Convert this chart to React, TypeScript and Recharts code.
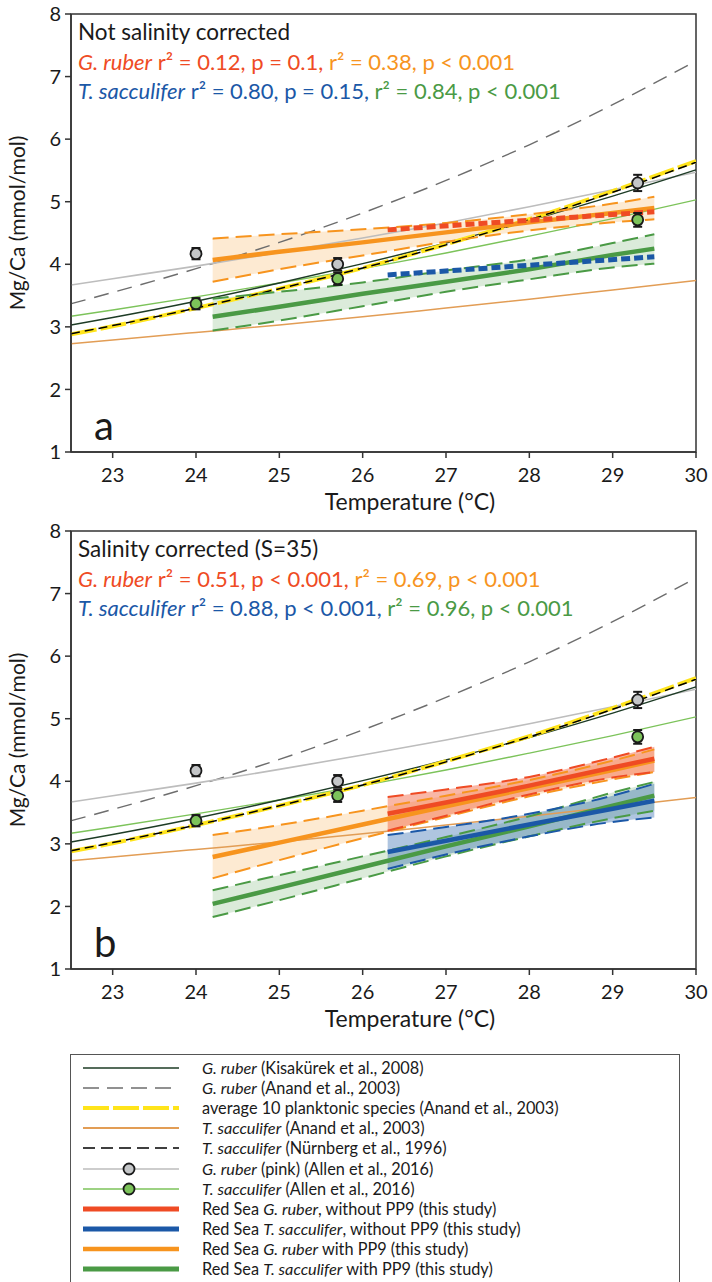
import React from 'react'
import {
  ComposedChart,
  Line,
  Area,
  Scatter,
  ErrorBar,
  XAxis,
  YAxis,
  ReferenceArea,
} from 'recharts'

// ---- axis ticks ----
const TEMP_TICKS = [23, 24, 25, 26, 27, 28, 29, 30]
const MGCA_TICKS = [1, 2, 3, 4, 5, 6, 7, 8]

// ---- published calibrations (same in both panels), read at these temperatures ----
const CURVE_T = [22.5, 23, 24, 25, 26, 27, 28, 29, 30]
const kisakurekRuber = [3.03, 3.15, 3.41, 3.7, 4.01, 4.34, 4.7, 5.09, 5.51]
const anandRuber = [3.37, 3.55, 3.93, 4.35, 4.82, 5.34, 5.91, 6.55, 7.25]
const anandAverage = [2.88, 3.01, 3.3, 3.61, 3.94, 4.32, 4.72, 5.17, 5.65]
const anandSacculifer = [2.73, 2.79, 2.91, 3.03, 3.16, 3.3, 3.44, 3.59, 3.74]
const nurnbergSacculifer = [2.89, 3.02, 3.3, 3.61, 3.94, 4.31, 4.71, 5.15, 5.63]
const allenRuberPink = [3.67, 3.77, 3.97, 4.19, 4.42, 4.66, 4.92, 5.19, 5.47]
const allenSacculifer = [3.17, 3.27, 3.48, 3.7, 3.93, 4.18, 4.45, 4.73, 5.03]

// ---- Allen et al. 2016 data points ----
const ALLEN_T = [24.0, 25.7, 29.3]
const allenRuberPts = [4.17, 4.0, 5.3]
const allenRuberErr = [0.09, 0.1, 0.13]
const allenSaccPts = [3.37, 3.77, 4.71]
const allenSaccErr = [0.09, 0.1, 0.11]

// ---- Red Sea fits (this study) ----
const PP9_T = [24.2, 25, 26, 27, 28, 29, 29.5]
const NOPP9_T = [26.3, 27, 28, 29, 29.5]
const NOPP9_ENDS = [26.3, 29.5]

// panel a: not salinity corrected
const aRuberPP9Mean = [4.07, 4.2, 4.35, 4.51, 4.67, 4.82, 4.9]
const aRuberPP9Upper = [4.41, 4.48, 4.56, 4.66, 4.8, 4.97, 5.08]
const aRuberPP9Lower = [3.72, 3.92, 4.14, 4.36, 4.54, 4.67, 4.72]
const aSaccPP9Mean = [3.16, 3.32, 3.53, 3.72, 3.92, 4.15, 4.25]
const aSaccPP9Upper = [3.45, 3.56, 3.71, 3.9, 4.08, 4.34, 4.48]
const aSaccPP9Lower = [2.94, 3.1, 3.33, 3.56, 3.76, 3.95, 4.01]
const aRuberNoPP9 = [4.55, 4.84]
const aSaccNoPP9 = [3.83, 4.12]

// panel b: salinity corrected (S=35)
const bRuberPP9Mean = [2.79, 3.02, 3.31, 3.6, 3.89, 4.18, 4.33]
const bRuberPP9Upper = [3.14, 3.3, 3.53, 3.77, 4.02, 4.33, 4.51]
const bRuberPP9Lower = [2.45, 2.74, 3.09, 3.43, 3.76, 4.03, 4.15]
const bSaccPP9Mean = [2.04, 2.3, 2.63, 2.96, 3.28, 3.61, 3.77]
const bSaccPP9Upper = [2.26, 2.5, 2.8, 3.11, 3.44, 3.82, 3.99]
const bSaccPP9Lower = [1.83, 2.1, 2.45, 2.8, 3.12, 3.41, 3.53]
const bRuberNoPP9Mean = [3.48, 3.66, 3.93, 4.22, 4.36]
const bRuberNoPP9Upper = [3.75, 3.87, 4.07, 4.38, 4.55]
const bRuberNoPP9Lower = [3.21, 3.45, 3.79, 4.06, 4.15]
const bSaccNoPP9Mean = [2.87, 3.05, 3.31, 3.56, 3.69]
const bSaccNoPP9Upper = [3.14, 3.27, 3.48, 3.77, 3.96]
const bSaccNoPP9Lower = [2.6, 2.83, 3.12, 3.35, 3.42]

// ---- annotation text ----
const TOP_RUBER_STATS = [' r² = 0.12, p = 0.1,', ' r² = 0.38, p < 0.001']
const TOP_SACC_STATS = [' r² = 0.80, p = 0.15,', ' r² = 0.84, p < 0.001']
const BOTTOM_RUBER_STATS = [' r² = 0.51, p < 0.001,', ' r² = 0.69, p < 0.001']
const BOTTOM_SACC_STATS = [' r² = 0.88, p < 0.001,', ' r² = 0.96, p < 0.001']

const FONT = 'Lato, "Open Sans", sans-serif'
const INK = '#1a1a1a'
const FRAME = '#333'
const RED = '#ef4b24'
const ORANGE = '#f7941e'
const BLUE = '#1b58a7'
const GREEN = '#4a9a45'
const LIGHT_GREEN = '#7cc35a'
const GRAY_LINE = '#bdbdbd'
const GRAY_DASH = '#6d6d6d'
const KIS = '#1d3b25'
const YELLOW = '#ffe41a'
const TAN = '#e29d55'

const pts = (xs: number[], ys: number[]) => xs.map((x, i) => ({ x, y: ys[i] }))
const band = (xs: number[], lo: number[], hi: number[]) =>
  xs.map((x, i) => ({ x, range: [lo[i], hi[i]] }))
const errPts = (xs: number[], ys: number[], es: number[]) =>
  xs.map((x, i) => ({ x, y: ys[i], err: es[i] }))

interface Fit {
  id: string
  xs: number[]
  mean: number[]
  upper?: number[]
  lower?: number[]
  color: string
  fillOpacity?: number
  dashedMean?: boolean
}

function fitAreas(f: Fit) {
  if (!f.upper || !f.lower) return []
  return [
    <Area
      key={`${f.id}-area`}
      data={band(f.xs, f.lower, f.upper)}
      dataKey="range"
      type="monotone"
      stroke="none"
      fill={f.color}
      fillOpacity={f.fillOpacity ?? 0.2}
      isAnimationActive={false}
      activeDot={false}
    />,
  ]
}

function fitLines(f: Fit) {
  const out = []
  if (f.upper && f.lower) {
    for (const [k, ys] of [
      ['up', f.upper],
      ['lo', f.lower],
    ] as [string, number[]][]) {
      out.push(
        <Line
          key={`${f.id}-${k}`}
          data={pts(f.xs, ys)}
          dataKey="y"
          type="monotone"
          stroke={f.color}
          strokeWidth={2}
          strokeDasharray="16 7"
          dot={false}
          activeDot={false}
          isAnimationActive={false}
        />,
      )
    }
  }
  out.push(
    <Line
      key={`${f.id}-mean`}
      data={pts(f.xs, f.mean)}
      dataKey="y"
      type="linear"
      stroke={f.color}
      strokeWidth={f.dashedMean ? 5 : 4.5}
      strokeDasharray={f.dashedMean ? '9 4' : undefined}
      dot={false}
      activeDot={false}
      isAnimationActive={false}
    />,
  )
  return out
}

function curve(
  key: string,
  ys: number[],
  stroke: string,
  width: number,
  dash?: string,
) {
  return (
    <Line
      key={key}
      data={pts(CURVE_T, ys)}
      dataKey="y"
      type="monotone"
      stroke={stroke}
      strokeWidth={width}
      strokeDasharray={dash}
      dot={false}
      activeDot={false}
      isAnimationActive={false}
    />
  )
}

const dotShape = (fill: string) => (p: any) => (
  <circle cx={p.cx} cy={p.cy} r={5.5} fill={fill} stroke={INK} strokeWidth={1.8} />
)

const TICK = { fontSize: 20, fill: INK, fontFamily: FONT }

function Panel({
  top,
  title,
  ruberStats,
  saccStats,
  letter,
  fits,
}: {
  top: number
  title: string
  ruberStats: string[]
  saccStats: string[]
  letter: string
  fits: Fit[]
}) {
  return (
    <div style={{ position: 'absolute', left: 0, top, width: 712, height: 520 }}>
      <ComposedChart
        width={712}
        height={502}
        margin={{ top: 14, right: 16, bottom: 0, left: 0 }}
      >
        <XAxis
          type="number"
          dataKey="x"
          domain={[22.5, 30]}
          ticks={TEMP_TICKS}
          allowDataOverflow
          height={50}
          tick={TICK}
          tickSize={6}
          tickMargin={10}
          axisLine={{ stroke: FRAME, strokeWidth: 1.5 }}
          tickLine={{ stroke: FRAME, strokeWidth: 1.5 }}
        />
        <YAxis
          type="number"
          dataKey="y"
          domain={[1, 8]}
          ticks={MGCA_TICKS}
          allowDataOverflow
          width={71}
          tick={TICK}
          tickSize={6}
          tickMargin={4}
          axisLine={{ stroke: FRAME, strokeWidth: 1.5 }}
          tickLine={{ stroke: FRAME, strokeWidth: 1.5 }}
        />
        {curve('anandRuber', anandRuber, GRAY_DASH, 1.4, '15 9')}
        {curve('allenRuber', allenRuberPink, GRAY_LINE, 1.6)}
        {curve('allenSacc', allenSacculifer, LIGHT_GREEN, 1.4)}
        {curve('anandSacc', anandSacculifer, TAN, 1.5)}
        {curve('kisakurek', kisakurekRuber, KIS, 1.4)}
        {curve('anandAvg', anandAverage, YELLOW, 4, '26 4')}
        {curve('nurnberg', nurnbergSacculifer, '#000', 1.5, '9 5')}
        {fits.flatMap(fitAreas)}
        {fits.flatMap(fitLines)}
        <Scatter
          data={errPts(ALLEN_T, allenRuberPts, allenRuberErr)}
          dataKey="y"
          shape={dotShape('#c4c6c8')}
          isAnimationActive={false}
        >
          <ErrorBar dataKey="err" direction="y" width={4.5} stroke={INK} strokeWidth={2} />
        </Scatter>
        <Scatter
          data={errPts(ALLEN_T, allenSaccPts, allenSaccErr)}
          dataKey="y"
          shape={dotShape(LIGHT_GREEN)}
          isAnimationActive={false}
        >
          <ErrorBar dataKey="err" direction="y" width={4.5} stroke={INK} strokeWidth={2} />
        </Scatter>
        <ReferenceArea
          x1={22.5}
          x2={30}
          y1={1}
          y2={8}
          fill="none"
          stroke={FRAME}
          strokeWidth={1.5}
          ifOverflow="visible"
        />
      </ComposedChart>
      <svg
        width={712}
        height={520}
        style={{ position: 'absolute', left: 0, top: 0, pointerEvents: 'none', whiteSpace: 'pre' }}
        fontFamily={FONT}
      >
        <text x={78} y={40} fontSize={22.5} fill={INK}>
          {title}
        </text>
        <text x={78} y={70} fontSize={22}>
          <tspan fill={RED} fontStyle="italic">G. ruber</tspan>
          <tspan fill={RED}>{ruberStats[0]}</tspan>
          <tspan fill={ORANGE}>{ruberStats[1]}</tspan>
        </text>
        <text x={78} y={99} fontSize={22}>
          <tspan fill={BLUE} fontStyle="italic">T. sacculifer</tspan>
          <tspan fill={BLUE}>{saccStats[0]}</tspan>
          <tspan fill={GREEN}>{saccStats[1]}</tspan>
        </text>
        <text x={94} y={440} fontSize={40} fill={INK}>
          {letter}
        </text>
        <text
          transform="translate(25,223) rotate(-90)"
          textAnchor="middle"
          fontSize={21}
          fill={INK}
        >
          Mg/Ca (mmol/mol)
        </text>
        <text x={410} y={510} textAnchor="middle" fontSize={23} fill={INK}>
          Temperature (°C)
        </text>
      </svg>
    </div>
  )
}

const TOP_FITS: Fit[] = [
  { id: 'aRuberPP9', xs: PP9_T, mean: aRuberPP9Mean, upper: aRuberPP9Upper, lower: aRuberPP9Lower, color: ORANGE },
  { id: 'aSaccPP9', xs: PP9_T, mean: aSaccPP9Mean, upper: aSaccPP9Upper, lower: aSaccPP9Lower, color: GREEN },
  { id: 'aRuberNo', xs: NOPP9_ENDS, mean: aRuberNoPP9, color: RED, dashedMean: true },
  { id: 'aSaccNo', xs: NOPP9_ENDS, mean: aSaccNoPP9, color: BLUE, dashedMean: true },
]

const BOTTOM_FITS: Fit[] = [
  { id: 'bRuberPP9', xs: PP9_T, mean: bRuberPP9Mean, upper: bRuberPP9Upper, lower: bRuberPP9Lower, color: ORANGE },
  { id: 'bSaccPP9', xs: PP9_T, mean: bSaccPP9Mean, upper: bSaccPP9Upper, lower: bSaccPP9Lower, color: GREEN },
  { id: 'bRuberNo', xs: NOPP9_T, mean: bRuberNoPP9Mean, upper: bRuberNoPP9Upper, lower: bRuberNoPP9Lower, color: RED, fillOpacity: 0.4 },
  { id: 'bSaccNo', xs: NOPP9_T, mean: bSaccNoPP9Mean, upper: bSaccNoPP9Upper, lower: bSaccNoPP9Lower, color: BLUE, fillOpacity: 0.35 },
]

// legend: [text, italic] segments
const LEGEND_LABELS: [string, boolean][][] = [
  [['G. ruber', true], [' (Kisakürek et al., 2008)', false]],
  [['G. ruber', true], [' (Anand et al., 2003)', false]],
  [['average 10 planktonic species (Anand et al., 2003)', false]],
  [['T. sacculifer', true], [' (Anand et al., 2003)', false]],
  [['T. sacculifer', true], [' (Nürnberg et al., 1996)', false]],
  [['G. ruber', true], [' (pink) (Allen et al., 2016)', false]],
  [['T. sacculifer', true], [' (Allen et al., 2016)', false]],
  [['Red Sea ', false], ['G. ruber', true], [', without PP9 (this study)', false]],
  [['Red Sea ', false], ['T. sacculifer', true], [', without PP9 (this study)', false]],
  [['Red Sea ', false], ['G. ruber', true], [' with PP9 (this study)', false]],
  [['Red Sea ', false], ['T. sacculifer', true], [' with PP9 (this study)', false]],
]

const LEGEND_SAMPLES = [
  { stroke: KIS, width: 1.5 },
  { stroke: GRAY_DASH, width: 1.3, dash: '16 8' },
  { stroke: YELLOW, width: 4, dash: '26 4' },
  { stroke: TAN, width: 2 },
  { stroke: '#000', width: 1.5, dash: '12 6' },
  { stroke: GRAY_LINE, width: 1.6, dot: '#c4c6c8' },
  { stroke: LIGHT_GREEN, width: 1.6, dot: LIGHT_GREEN },
  { stroke: RED, width: 5 },
  { stroke: BLUE, width: 5 },
  { stroke: ORANGE, width: 4.5 },
  { stroke: GREEN, width: 5 },
]

function LegendBox() {
  return (
    <div
      style={{
        position: 'absolute',
        left: 70,
        top: 1054,
        width: 610,
        height: 228,
        border: '1.5px solid #555',
        borderBottom: 'none',
        boxSizing: 'border-box',
        fontFamily: FONT,
        fontSize: 16.3,
        color: INK,
      }}
    >
      {LEGEND_LABELS.map((segs, i) => {
        const s = LEGEND_SAMPLES[i] as any
        return (
          <div
            key={i}
            style={{ position: 'absolute', left: 0, top: 3 + i * 20.1, height: 20, width: '100%' }}
          >
            <svg width={98} height={20} style={{ position: 'absolute', left: 11, top: 0 }}>
              <line
                x1={1}
                y1={10}
                x2={97}
                y2={10}
                stroke={s.stroke}
                strokeWidth={s.width}
                strokeDasharray={s.dash}
              />
              {s.dot && (
                <circle cx={47} cy={10} r={5.5} fill={s.dot} stroke={INK} strokeWidth={1.8} />
              )}
            </svg>
            <div
              style={{
                position: 'absolute',
                left: 131,
                top: 0,
                lineHeight: '20px',
                whiteSpace: 'pre',
              }}
            >
              {segs.map(([t, it], j) => (
                <span key={j} style={{ fontStyle: it ? 'italic' : 'normal' }}>
                  {t}
                </span>
              ))}
            </div>
          </div>
        )
      })}
    </div>
  )
}

export default function App() {
  return (
    <div
      style={{
        position: 'relative',
        width: 712,
        height: 1282,
        overflow: 'hidden',
        background: '#fff',
        fontFamily: FONT,
      }}
    >
      <style>{'body{margin:0;overflow:hidden}'}</style>
      <Panel
        top={0}
        title="Not salinity corrected"
        ruberStats={TOP_RUBER_STATS}
        saccStats={TOP_SACC_STATS}
        letter="a"
        fits={TOP_FITS}
      />
      <Panel
        top={517}
        title="Salinity corrected (S=35)"
        ruberStats={BOTTOM_RUBER_STATS}
        saccStats={BOTTOM_SACC_STATS}
        letter="b"
        fits={BOTTOM_FITS}
      />
      <LegendBox />
    </div>
  )
}
